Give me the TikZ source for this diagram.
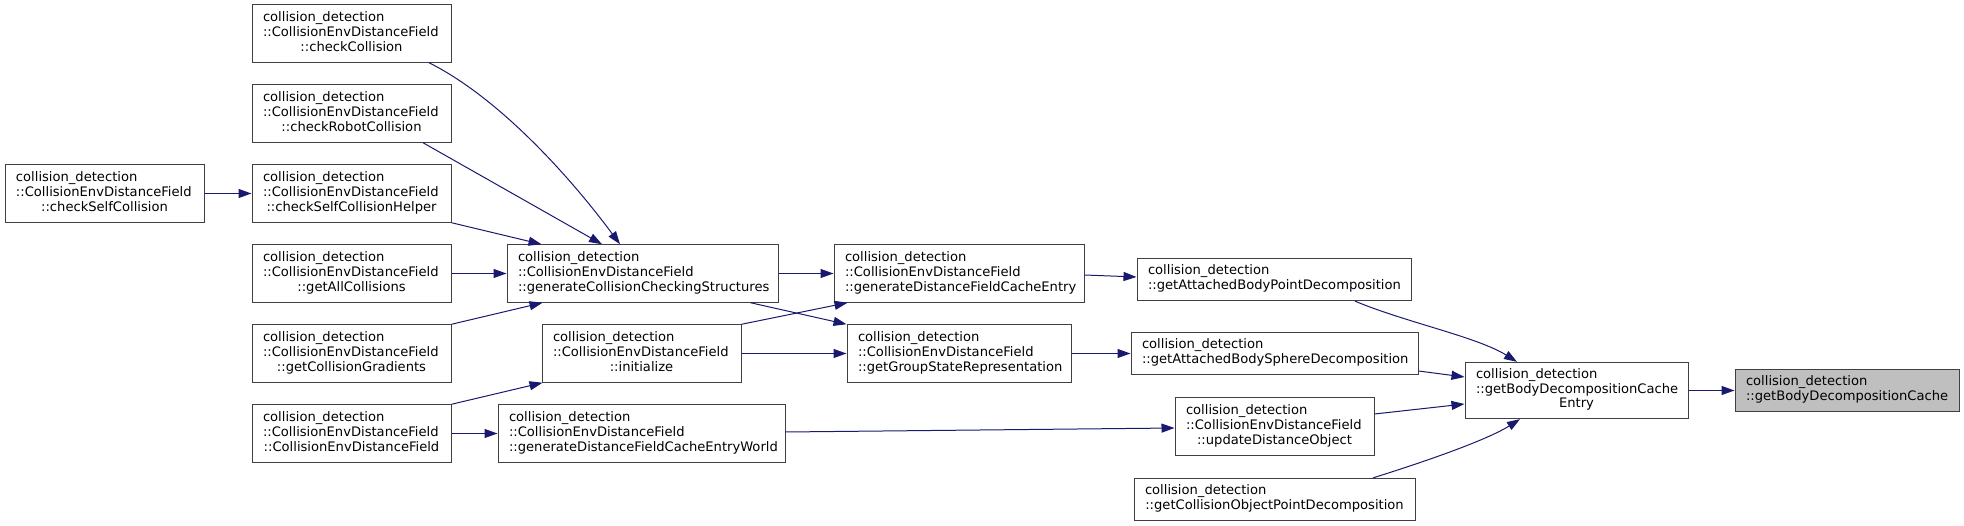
\documentclass[tikz,border=0pt]{standalone}
\usepackage{fontspec}
\setmainfont{DejaVu Sans}
\usepackage{tikz}
\usetikzlibrary{arrows.meta}
\definecolor{DoxEdge}{HTML}{191970}
\definecolor{DoxBorder}{HTML}{404040}
\definecolor{DoxGrey}{HTML}{BFBFBF}
\newcommand{\DoxLeft}[1]{\makebox[\hsize][l]{\strut#1}}
\tikzset{
  fnbox/.style={draw=DoxBorder,line width=1pt,fill=white,text width=#1,
    inner xsep=11pt,inner ysep=6.5pt,align=center,
    font=\fontsize{13.1pt}{14pt}\selectfont},
  calls/.style={color=DoxEdge,line width=1pt,-{Triangle[length=13pt,width=9pt]}}
}

\begin{document}
\begin{tikzpicture}[x=1pt,y=-1pt]
  \useasboundingbox (0,0) rectangle (1964,526);
  \node[fnbox=177pt] (chkColl) at (351.5,33.5) {\DoxLeft{collision\_detection}\\\DoxLeft{::CollisionEnvDistanceField}\\\strut::checkCollision};
  \node[fnbox=177pt] (chkRobot) at (351.5,113.5) {\DoxLeft{collision\_detection}\\\DoxLeft{::CollisionEnvDistanceField}\\\strut::checkRobotCollision};
  \node[fnbox=177pt] (chkHelper) at (351.5,193.5) {\DoxLeft{collision\_detection}\\\DoxLeft{::CollisionEnvDistanceField}\\\strut::checkSelfCollisionHelper};
  \node[fnbox=177pt] (chkSelf) at (104.5,193.5) {\DoxLeft{collision\_detection}\\\DoxLeft{::CollisionEnvDistanceField}\\\strut::checkSelfCollision};
  \node[fnbox=177pt] (getAll) at (351.5,273.5) {\DoxLeft{collision\_detection}\\\DoxLeft{::CollisionEnvDistanceField}\\\strut::getAllCollisions};
  \node[fnbox=177pt] (getGrad) at (351.5,353.5) {\DoxLeft{collision\_detection}\\\DoxLeft{::CollisionEnvDistanceField}\\\strut::getCollisionGradients};
  \node[fnbox=177pt] (ctor) at (351.5,433.5) {\DoxLeft{collision\_detection}\\\DoxLeft{::CollisionEnvDistanceField}\\\strut::CollisionEnvDistanceField};
  \node[fnbox=249pt] (genCCS) at (642.5,273.5) {\DoxLeft{collision\_detection}\\\DoxLeft{::CollisionEnvDistanceField}\\\strut::generateCollisionCheckingStructures};
  \node[fnbox=177pt] (init) at (641.5,353.5) {\DoxLeft{collision\_detection}\\\DoxLeft{::CollisionEnvDistanceField}\\\strut::initialize};
  \node[fnbox=265pt] (genWorld) at (641.5,433.5) {\DoxLeft{collision\_detection}\\\DoxLeft{::CollisionEnvDistanceField}\\\strut::generateDistanceFieldCacheEntryWorld};
  \node[fnbox=228pt] (genEntry) at (959,273.5) {\DoxLeft{collision\_detection}\\\DoxLeft{::CollisionEnvDistanceField}\\\strut::generateDistanceFieldCacheEntry};
  \node[fnbox=202pt] (getGSR) at (959,353.5) {\DoxLeft{collision\_detection}\\\DoxLeft{::CollisionEnvDistanceField}\\\strut::getGroupStateRepresentation};
  \node[fnbox=252pt] (attPoint) at (1274,279.5) {\DoxLeft{collision\_detection}\\\strut::getAttachedBodyPointDecomposition};
  \node[fnbox=265pt] (attSphere) at (1274.5,353.5) {\DoxLeft{collision\_detection}\\\strut::getAttachedBodySphereDecomposition};
  \node[fnbox=177pt] (updDist) at (1274.5,426.5) {\DoxLeft{collision\_detection}\\\DoxLeft{::CollisionEnvDistanceField}\\\strut::updateDistanceObject};
  \node[fnbox=259pt] (objPoint) at (1274.5,499.5) {\DoxLeft{collision\_detection}\\\strut::getCollisionObjectPointDecomposition};
  \node[fnbox=201pt] (cacheEntry) at (1576.5,390.5) {\DoxLeft{collision\_detection}\\\DoxLeft{::getBodyDecompositionCache}\\\strut Entry};
  \node[fnbox=202pt,fill=DoxGrey] (cache) at (1847,390.5) {\DoxLeft{collision\_detection}\\\DoxLeft{::getBodyDecompositionCache}};

  \draw[calls] ([xshift=77.5pt]chkColl.south) .. controls +(70,35) and +(-50,-67.5) .. ([xshift=-22.5pt]genCCS.north);
  \draw[calls] ([xshift=71.5pt]chkRobot.south) -- ([xshift=-40.5pt]genCCS.north);
  \draw[calls] (chkHelper.south east) -- ([xshift=35pt]genCCS.north west);
  \draw[calls] (chkSelf.east) -- (chkHelper.west);
  \draw[calls] (getAll.east) -- (genCCS.west);
  \draw[calls] (getGrad.north east) -- ([xshift=36pt]genCCS.south west);
  \draw[calls] (ctor.north east) -- ([xshift=1pt]init.south west);
  \draw[calls] (ctor.east) -- (genWorld.west);
  \draw[calls] (genCCS.east) -- (genEntry.west);
  \draw[calls] ([xshift=-28pt]genCCS.south east) -- (getGSR.north west);
  \draw[calls] (init.north east) -- ([xshift=14pt]genEntry.south west);
  \draw[calls] (init.east) -- (getGSR.west);
  \draw[calls] ([yshift=-1.5pt]genEntry.east) -- ([yshift=2.5pt]attPoint.west);
  \draw[calls] (getGSR.east) -- (attSphere.west);
  \draw[calls] ([yshift=1.5pt]genWorld.east) -- ([yshift=-1.5pt]updDist.west);
  \draw[calls] ([xshift=81pt]attPoint.south) .. controls +(50,21) and +(-40,-25) .. ([xshift=-59.5pt]cacheEntry.north);
  \draw[calls] ([yshift=-17.5pt]attSphere.east) -- ([yshift=13.5pt]cacheEntry.west);
  \draw[calls] ([yshift=12.5pt]updDist.east) -- ([yshift=-13.5pt]cacheEntry.west);
  \draw[calls] ([xshift=98.5pt]objPoint.north) .. controls +(45,-14) and +(-35,22) .. ([xshift=-56.5pt]cacheEntry.south);
  \draw[calls] (cacheEntry.east) -- (cache.west);
\end{tikzpicture}
\end{document}
